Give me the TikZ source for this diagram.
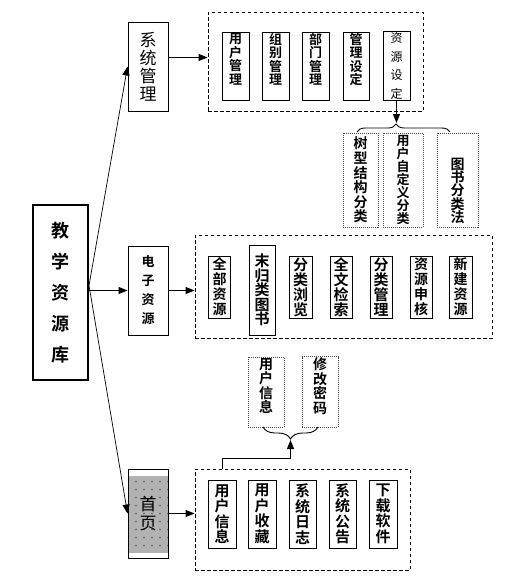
\documentclass[tikz,border=0pt]{standalone}
\usepackage{fontspec}
\newfontfamily\cjk{Noto Sans CJK SC}[BoldFont={Noto Sans CJK SC Bold}]
\usetikzlibrary{arrows.meta,decorations.pathreplacing}
\newcommand{\fsz}[2]{\fontsize{#1}{#2}\selectfont}

\tikzset{
  mainbox/.style={draw=black, line width=2pt, inner sep=1pt, align=center, font=\cjk\bfseries\fsz{18}{31}},
  catbox/.style={draw=black, line width=0.9pt, inner sep=1pt, align=center},
  itembox/.style={draw=black, line width=1pt, inner sep=1pt, align=center, font=\cjk\bfseries\fsz{14}{15}},
  dotbox/.style={draw=black!70, line width=0.9pt, dash pattern=on 1pt off 1pt, inner sep=1pt, align=center, font=\cjk\bfseries\fsz{14}{14.6}},
  grp/.style={draw=black, line width=0.9pt, dash pattern=on 3.5pt off 2.5pt, inner sep=0pt},
  arr/.style={-{Triangle[length=9pt,width=7pt]}, line width=0.9pt},
  brc/.style={line width=0.9pt, decorate},
  dotted fill/.style={path picture={
      \fill[gray!60] ([yshift=-7pt]path picture bounding box.north west) rectangle ([yshift=5pt]path picture bounding box.south east);
      \foreach \i in {-2,...,2} \foreach \j in {-4,...,4}
        \fill[black!65] ([shift={(\i*8pt+4pt,\j*8pt)}]path picture bounding box.center) circle (0.8pt);
  }}
}

\begin{document}
\begin{tikzpicture}[x=1pt, y=-1pt]
    \useasboundingbox (0,0) rectangle (506,587);

    % root and the three branches
    \node[mainbox, minimum width=55, minimum height=175] (jxzyk) at (60.5,292.5) {教\\学\\资\\源\\库};
    \node[catbox, font=\cjk\fsz{17}{18}, minimum width=40, minimum height=89] (xtgl) at (148,66.5) {系\\统\\管\\理};
    \node[catbox, font=\cjk\bfseries\fsz{13}{19}, minimum width=40, minimum height=89] (dzzy) at (148,290.5) {电\\子\\资\\源};
    \node[catbox, dotted fill, font=\cjk\fsz{17}{19}, minimum width=40, minimum height=89] (sy) at (148,513.5) {首\\页};

    % dashed groups
    \node[grp, minimum width=215, minimum height=99] (grp1) at (315.5,61.5) {};
    \node[grp, minimum width=297, minimum height=103] (grp2) at (343.5,286.5) {};
    \node[grp, minimum width=215, minimum height=101] (grp3) at (302.5,519.5) {};

    % system management
    \node[itembox, font=\cjk\bfseries\fsz{13}{13.5}, text depth=14pt, minimum width=27, minimum height=68] (yhgl) at (235.5,66) {用\\户\\管\\理};
    \node[itembox, font=\cjk\bfseries\fsz{13}{13.5}, text depth=14pt, minimum width=27, minimum height=68] (zbgl) at (275.5,66) {组\\别\\管\\理};
    \node[itembox, font=\cjk\bfseries\fsz{13}{13.5}, text depth=14pt, minimum width=27, minimum height=68] (bmgl) at (315.5,66) {部\\门\\管\\理};
    \node[itembox, font=\cjk\bfseries\fsz{13}{13.5}, text depth=14pt, minimum width=26, minimum height=68] (glsd) at (356,66) {管\\理\\设\\定};
    \node[itembox, font=\cjk\fsz{12}{18.5}, minimum width=27, minimum height=68] (zysd) at (396.5,66) {资\\源\\设\\定};

    % resource settings
    \node[dotbox, minimum width=35, minimum height=94] (sxjg) at (360.5,180) {树\\型\\结\\构\\分\\类};
    \node[dotbox, font=\cjk\bfseries\fsz{13}{13}, minimum width=40, minimum height=94] (zdyfl) at (403,180) {用\\户\\自\\定\\义\\分\\类};
    \node[dotbox, font=\cjk\bfseries\fsz{14}{13.3}, text height=86pt, minimum width=41, minimum height=94] (tsfl) at (457.5,180) {图\\书\\分\\类\\法};

    % electronic resources
    \node[itembox, minimum width=22, minimum height=62] (qbzy) at (219.5,287) {全\\部\\资\\源};
    \node[itembox, font=\cjk\bfseries\fsz{15}{14.6}, minimum width=26, minimum height=90] (wglts) at (262,290) {末\\归\\类\\图\\书};
    \node[itembox, font=\cjk\bfseries\fsz{15}{15}, minimum width=23, minimum height=62] (flll) at (300.5,287) {分\\类\\浏\\览};
    \node[itembox, font=\cjk\bfseries\fsz{15}{15}, minimum width=22, minimum height=62] (qwjs) at (341,287) {全\\文\\检\\索};
    \node[itembox, font=\cjk\bfseries\fsz{15}{15}, minimum width=22, minimum height=62] (flgl) at (381,287) {分\\类\\管\\理};
    \node[itembox, minimum width=22, minimum height=62] (zysh) at (421,287) {资\\源\\申\\核};
    \node[itembox, minimum width=23, minimum height=62] (xjzy) at (460.5,287) {新\\建\\资\\源};

    % home page
    \node[itembox, font=\cjk\bfseries\fsz{15}{15.5}, minimum width=28, minimum height=68] (yhxx) at (222,514) {用\\户\\信\\息};
    \node[itembox, font=\cjk\bfseries\fsz{15}{15.5}, minimum width=28, minimum height=68] (yhsc) at (262,514) {用\\户\\收\\藏};
    \node[itembox, font=\cjk\bfseries\fsz{15}{15.5}, minimum width=27, minimum height=68] (xtrz) at (302.5,514) {系\\统\\日\\志};
    \node[itembox, font=\cjk\bfseries\fsz{15}{15.5}, minimum width=27, minimum height=68] (xtgg) at (342.5,514) {系\\统\\公\\告};
    \node[itembox, font=\cjk\bfseries\fsz{15}{15.5}, minimum width=28, minimum height=68] (xzrj) at (383,514) {下\\载\\软\\件};

    % user info options
    \node[dotbox, text depth=13pt, minimum width=36, minimum height=70] (yhxx2) at (266,392) {用\\户\\信\\息};
    \node[dotbox, text depth=13pt, minimum width=36, minimum height=70] (xgmm) at (320,392) {修\\改\\密\\码};

    % connectors
    \coordinate (hub) at ([yshift=7pt]jxzyk.east);
    \draw[arr, line width=0.7pt] (hub) -- (xtgl.west);
    \draw[arr, line width=0.7pt] (hub) -- (sy.west);
    \draw[arr] (jxzyk.east |- dzzy.west) -- (dzzy.west);

    \coordinate (s1) at ([yshift=9pt]xtgl.east);
    \draw[arr] (s1) -- (s1 -| grp1.west);
    \draw[arr] (dzzy.east) -- (dzzy.east -| grp2.west);
    \draw[arr] (sy.east) -- (sy.east -| grp3.west);

    % braces
    \coordinate (b1l) at (357,132);
    \coordinate (b1r) at (450,132);
    \coordinate (b1t) at (396.5,123);
    \draw[brc, decoration={brace, amplitude=8pt, aspect=0.42}] (b1l) -- (b1r);
    \draw[arr] (zysd.south) -- (b1t);

    \coordinate (b2r) at (318,427);
    \coordinate (b2l) at (263,427);
    \coordinate (b2m) at (290.5,458);
    \coordinate (b2t) at (290.5,440);
    \draw[brc, decoration={brace, amplitude=12pt}] (b2r) -- (b2l);
    \draw[arr] (yhxx.north |- grp3.north) |- (b2m) -- (b2t);
\end{tikzpicture}
\end{document}
